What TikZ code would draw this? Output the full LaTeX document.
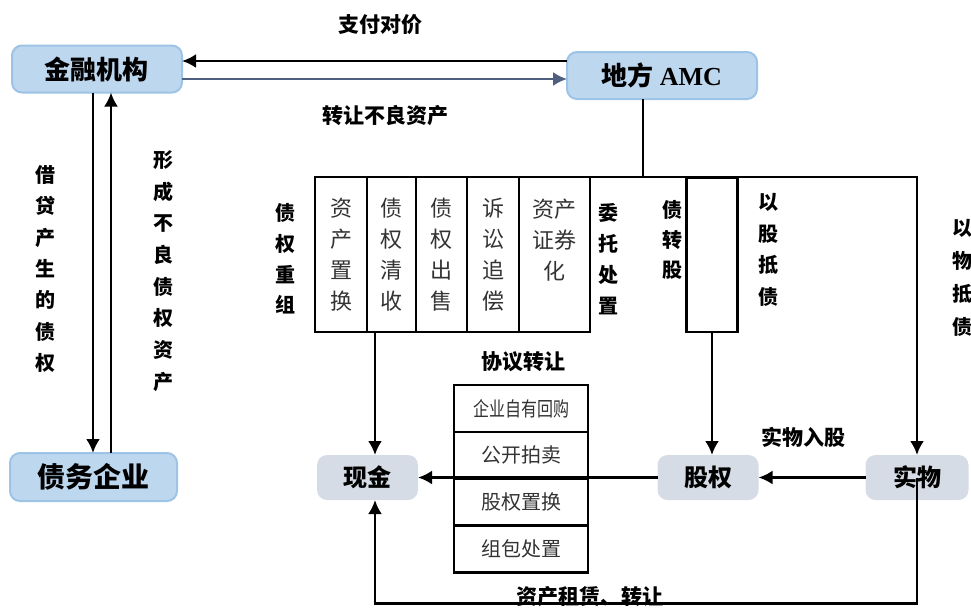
\documentclass[tikz,border=0pt]{standalone}
\usepackage{fontspec}
\setmainfont{Noto Sans CJK SC}
\newfontfamily\serifbf{Liberation Serif}
\usetikzlibrary{arrows.meta,positioning,calc}

\definecolor{boxblue}{HTML}{BDD7EE}
\definecolor{edgeblue}{HTML}{9DC3E6}
\definecolor{boxgray}{HTML}{D6DCE5}
\definecolor{arrowslate}{HTML}{4F5F7F}

\begin{document}
\begin{tikzpicture}[
    x=0.5pt, y=-0.5pt,
    >={Latex[length=7pt,width=7pt]},
    line width=1.3pt,
    every node/.style={align=center, inner sep=0pt, outer sep=0pt},
    orgbox/.style={draw=edgeblue, fill=boxblue, rounded corners=5pt, line width=1pt, minimum height=23.5pt, font=\bfseries\fontsize{13}{15}\selectfont},
    assetbox/.style={fill=boxgray, rounded corners=5pt, minimum width=50.5pt, minimum height=22.5pt, font=\bfseries\fontsize{12}{14}\selectfont},
    waybox/.style={draw, minimum height=77.5pt, font=\fontsize{11}{15.5}\selectfont, text=black!80},
    dealbox/.style={draw, minimum width=67pt, minimum height=23.4pt, font=\fontsize{10}{12}\selectfont, text=black!80},
    vlabel/.style={font=\bfseries\fontsize{10}{#1}\selectfont},
    hlabel/.style={font=\bfseries\fontsize{10.5}{12}\selectfont}
]
\useasboundingbox (0,0) rectangle (971,607);

% -------------------------------------------------
% INSTITUTIONS
% -------------------------------------------------
\node[orgbox, minimum width=85pt] (jrjg) at (97,69) {金融机构};
\node[orgbox, minimum width=95pt] (amc) at (662,75.5) {地方 {\serifbf AMC}};
\node[orgbox, minimum width=83.5pt, minimum height=24pt, font=\bfseries\fontsize{14}{16}\selectfont] (zwqy) at (93.5,477) {债务企业};

% top arrows
\draw[->] ($(amc.west)+(0,-14.5)$) -- ($(jrjg.east)+(0,-8)$);
\draw[->, draw=arrowslate, line width=1pt] ($(jrjg.east)+(0,10)$) -- ($(amc.west)+(0,3.5)$);
\node[hlabel] (payL) at (380,25) {支付对价};
\node[hlabel] (sellL) at (385,116) {转让不良资产};

% left arrows
\draw[->] ($(jrjg.south)+(-4,0)$) coordinate (loanT) -- (loanT |- zwqy.north);
\draw[->] ($(zwqy.north)+(17.5,0)$) coordinate (badB) -- (badB |- jrjg.south);
\node[vlabel=15.7] (loanL) at (45,269) {借\\贷\\产\\生\\的\\债\\权};
\node[vlabel=15.85] (badL) at (163,271) {形\\成\\不\\良\\债\\权\\资\\产};

% =================================================
% DISPOSAL WAYS
% =================================================
\node[waybox, minimum width=26pt, anchor=north west] (way1) at (315,177) {资\\产\\置\\换};
\node[waybox, minimum width=24.5pt, right=0pt of way1] (way2) {债\\权\\清\\收};
\node[waybox, minimum width=25.5pt, right=0pt of way2] (way3) {债\\权\\出\\售};
\node[waybox, minimum width=26pt, right=0pt of way3] (way4) {诉\\讼\\追\\偿};
\node[waybox, minimum width=35.5pt, right=0pt of way4] (way5) {资产\\证券\\化\\~};
\node[waybox, minimum width=25.5pt, minimum height=77pt] (zgs) at (712,255) {};

\node[vlabel=15.4] (restructL) at (285,259) {债\\权\\重\\组};
\node[vlabel=15.4] (entrustL) at (608,259) {委\\托\\处\\置};
\node[vlabel=15] (swapL) at (672,240) {债\\转\\股};
\node[vlabel=15.8] (equityL) at (768,250) {以\\股\\抵\\债};
\node[vlabel=16.5] (goodsL) at (962,277.5) {以\\物\\抵\\债};

% =================================================
% ASSETS
% =================================================
\node[assetbox] (xj) at (367.5,477.5) {现金};
\node[assetbox] (gq) at (708,477.5) {股权};
\node[assetbox, minimum width=51.5pt] (sw) at (917,477.5) {实物};

% trunk from AMC
\draw ($(amc.south)+(-19,0)$) coordinate (trunkT) -- (trunkT |- way1.north west);
\draw[->] (way1.north west) -| (sw.north);

% flows to assets
\draw[->] ($(way2.south)+(-16.5,0)$) coordinate (cashT) -- (cashT |- xj.north);
\draw[->] (zgs.south) -- (zgs.south |- gq.north);
\draw[->] (gq.west) -- (xj.east);
\draw[->] (sw.west) -- (gq.east);
\draw[->] (sw.center) -- ++(0,126) -| (cashT |- xj.south);

\node[hlabel] (inkindL) at (803,437) {实物入股};
\node[hlabel] (leaseL) at (590,597) {资产租赁、转让};

% agreement transfer table
\node[hlabel] (dealL) at (523,362) {协议转让};
\node[dealbox, anchor=north west] (deal1) at (454,385) {\scalebox{0.8}[1]{企业自有回购}};
\node[dealbox, below=0pt of deal1] (deal2) {公开拍卖};
\node[dealbox, below=0pt of deal2] (deal3) {股权置换};
\node[dealbox, below=0pt of deal3] (deal4) {组包处置};

\end{tikzpicture}
\end{document}
